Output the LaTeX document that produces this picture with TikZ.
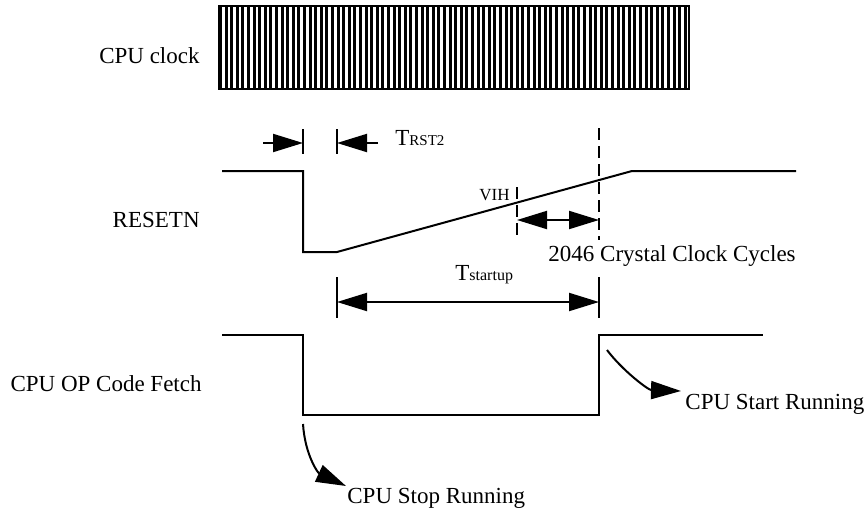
\documentclass[tikz,border=0pt]{standalone}
\usepackage{fontspec}
\setmainfont{Liberation Serif}
\usetikzlibrary{arrows.meta}

\begin{document}
\begin{tikzpicture}[x=0.5pt,y=-0.5pt,line cap=butt,line join=miter]

% Styles
\tikzset{
  signal/.style={line width=1pt},
  dimtick/.style={line width=1pt},
  dimdash/.style={line width=1pt,dash pattern=on 6pt off 3pt},
  dimarrow/.style={line width=1pt,-{Triangle[length=15pt,width=9pt]}},
  dimboth/.style={line width=1pt,{Triangle[length=15pt,width=9pt]}-{Triangle[length=15pt,width=9pt]}},
  curvearrow/.style={line width=1pt,-{Triangle[length=15pt,width=9pt]}},
  rowlabel/.style={font=\fontsize{11.5}{13}\selectfont,inner sep=0pt,anchor=base east},
  notelabel/.style={font=\fontsize{11.5}{13}\selectfont,inner sep=0pt,anchor=base west}
}

\useasboundingbox (0,0) rectangle (865,514);

% Row labels
\node[rowlabel] (clklabel) at (200,63) {CPU clock};
\node[rowlabel] (rstlabel) at (200,227) {RESETN};
\node[rowlabel] (fetchlabel) at (202,391) {CPU OP Code Fetch};

% CPU clock
\foreach \i in {0,...,83} {
  \fill ({219+5.6*\i},6) rectangle ++(3,83);
}
\draw[line width=0.8pt] (219,6) rectangle (689,89);

% RESETN waveform
\coordinate (rA) at (222,171);
\coordinate (rB) at (303,171);
\coordinate (rC) at (303,252);
\coordinate (rD) at (337,252);
\coordinate (rE) at (632,171);
\coordinate (rF) at (796,171);
\draw[signal] (rA) -- (rB) -- (rC) -- (rD) -- (rE) -- (rF);

% CPU OP Code Fetch waveform
\coordinate (fA) at (222,335);
\coordinate (fB) at (303,335);
\coordinate (fC) at (303,415);
\coordinate (fD) at (599,415);
\coordinate (fE) at (599,335);
\coordinate (fF) at (763,335);
\draw[signal] (fA) -- (fB) -- (fC) -- (fD) -- (fE) -- (fF);

% TRST2
\coordinate (t1top) at (303,129);
\coordinate (t1bot) at (303,154);
\coordinate (t2top) at (337,129);
\coordinate (t2bot) at (337,154);
\coordinate (t1from) at (263,143);
\coordinate (t1to) at (303,143);
\coordinate (t2from) at (378,143);
\coordinate (t2to) at (337,143);
\draw[dimtick] (t1top) -- (t1bot);
\draw[dimtick] (t2top) -- (t2bot);
\draw[dimarrow] (t1from) -- (t1to);
\draw[dimarrow] (t2from) -- (t2to);
\node[notelabel] (trst) at (395,145) {T{\fontsize{7.5}{8}\selectfont RST2}};

% VIH and crystal clock cycles
\coordinate (vihtop) at (517,187);
\coordinate (vihbot) at (517,240);
\coordinate (endtop) at (599,128);
\coordinate (endbot) at (599,240);
\draw[dimdash] (vihtop) -- (vihbot);
\draw[dimdash] (endtop) -- (endbot);
\node[font=\fontsize{8.5}{9}\selectfont,inner sep=0pt,anchor=base east] (vih) at (510,200) {VIH};
\coordinate (cycfrom) at (517,220);
\coordinate (cycto) at (599,220);
\draw[dimboth] (cycfrom) -- (cycto);
\node[notelabel] (cycles) at (548,261) {2046 Crystal Clock Cycles};

% Tstartup
\coordinate (s1top) at (337,277);
\coordinate (s1bot) at (337,318);
\coordinate (s2top) at (599,277);
\coordinate (s2bot) at (599,318);
\draw[dimtick] (s1top) -- (s1bot);
\draw[dimtick] (s2top) -- (s2bot);
\coordinate (sfrom) at (337,302);
\coordinate (sto) at (599,302);
\draw[dimboth] (sfrom) -- (sto);
\node[notelabel] (tstartup) at (455,280) {T{\fontsize{8}{9}\selectfont startup}};

% CPU start / stop notes
\node[notelabel] (startrun) at (685,409) {CPU Start Running};
\node[notelabel] (stoprun) at (347,503) {CPU Stop Running};
\coordinate (startfrom) at (607,350);
\coordinate (startto) at (681,391);
\coordinate (stopfrom) at (303,424);
\coordinate (stopto) at (346,486);
\draw[curvearrow] (startfrom) .. controls (622,370) and (648,390) .. (startto);
\draw[curvearrow] (stopfrom) .. controls (305,455) and (318,473) .. (stopto);

\end{tikzpicture}
\end{document}
